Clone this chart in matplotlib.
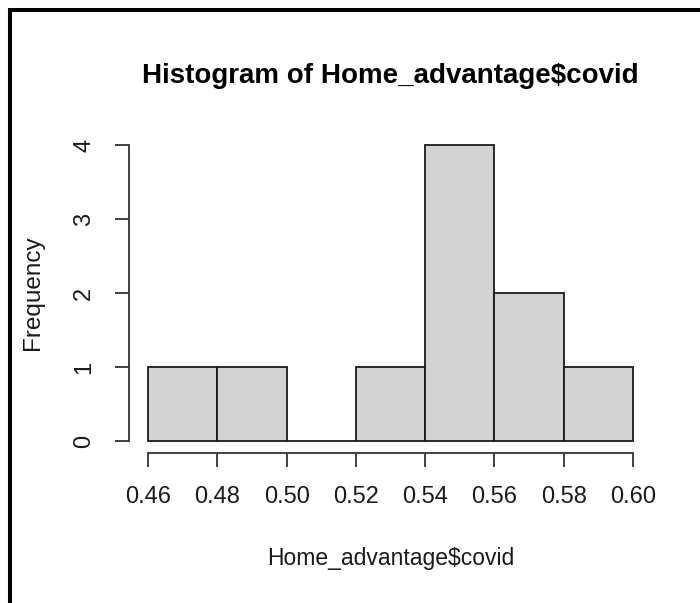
import matplotlib
matplotlib.use("Agg")
import matplotlib.pyplot as plt
from matplotlib.lines import Line2D

# Histogram bins and counts
bin_edges = [0.46, 0.48, 0.50, 0.52, 0.54, 0.56, 0.58, 0.60]
counts = [1, 1, 0, 1, 4, 2, 1]
x_ticks = [0.46, 0.48, 0.50, 0.52, 0.54, 0.56, 0.58, 0.60]
x_tick_labels = ["0.46", "0.48", "0.50", "0.52", "0.54", "0.56", "0.58", "0.60"]
y_ticks = [0, 1, 2, 3, 4]

title = "Histogram of Home_advantage$covid"
x_label = "Home_advantage$covid"
y_label = "Frequency"

plt.rcParams["font.family"] = ["Liberation Sans", "DejaVu Sans"]

W, H = 700, 603
fig = plt.figure(figsize=(W / 100, H / 100), dpi=100)
fig.patch.set_facecolor("white")

left, right = 128.6, 652.4
top, bottom = 133.2, 452.8
ax = fig.add_axes([left / W, 1 - bottom / H, (right - left) / W, (bottom - top) / H])

ax.hist(bin_edges[:-1], bins=bin_edges, weights=counts,
        color="#d3d3d3", edgecolor="#1a1a1a", linewidth=1.3)

# R-style 4% padding around the data range
xr = bin_edges[-1] - bin_edges[0]
ax.set_xlim(bin_edges[0] - 0.04 * xr, bin_edges[-1] + 0.04 * xr)
ymax = max(counts)
ax.set_ylim(-0.04 * ymax, ymax * 1.04)

for s in ("top", "right"):
    ax.spines[s].set_visible(False)
ax.spines["left"].set_bounds(y_ticks[0], y_ticks[-1])
ax.spines["bottom"].set_bounds(x_ticks[0], x_ticks[-1])
for s in ("left", "bottom"):
    ax.spines[s].set_linewidth(1.3)
    ax.spines[s].set_color("#333333")

ax.set_xticks(x_ticks)
ax.set_xticklabels(x_tick_labels)
ax.set_yticks(y_ticks)
ax.set_yticklabels([str(v) for v in y_ticks], rotation=90, va="center")
ax.tick_params(axis="both", length=10, width=1.3, color="#333333",
               labelsize=17, labelcolor="#1a1a1a")
ax.tick_params(axis="x", pad=14)
ax.tick_params(axis="y", pad=14)

fig.text(390.5 / W, 1 - 76 / H, title, ha="center", va="center",
         fontsize=20, fontweight="bold", color="black")
fig.text(390.5 / W, 1 - 558 / H, x_label, ha="center", va="center",
         fontsize=16.5, color="#1a1a1a")
fig.text(33 / W, 1 - 293 / H, y_label, ha="center", va="center",
         rotation=90, fontsize=17.5, color="#1a1a1a")

# Frame around the window (top and left edges)
fig.add_artist(Line2D([10 / W, 1], [1 - 10 / H, 1 - 10 / H], color="black",
                      linewidth=2.9, transform=fig.transFigure, solid_capstyle="butt"))
fig.add_artist(Line2D([10 / W, 10 / W], [0, 1 - 8 / H], color="black",
                      linewidth=2.9, transform=fig.transFigure, solid_capstyle="butt"))

fig.savefig("out.png", dpi=100, facecolor="white")
